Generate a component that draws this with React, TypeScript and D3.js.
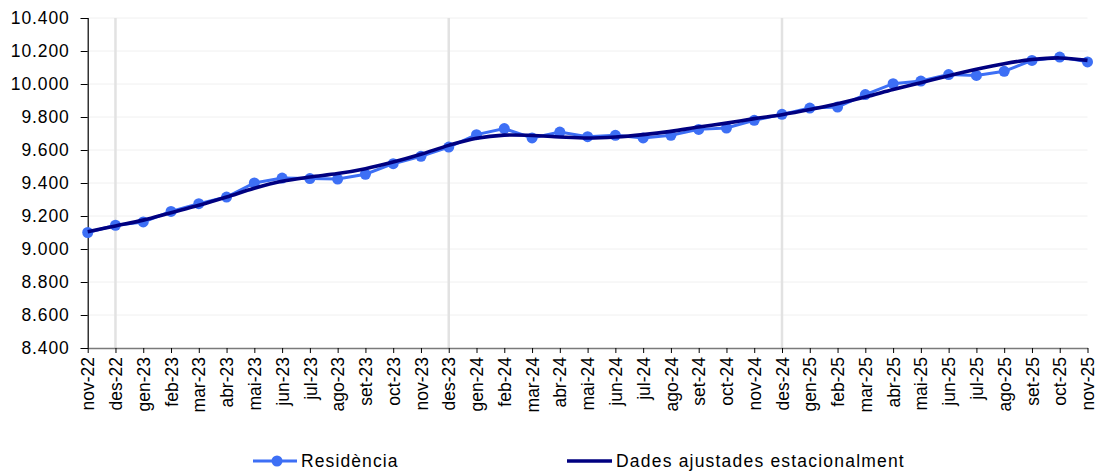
import React, { useEffect, useRef } from "react";
import * as d3 from "d3";

const months = [
  "nov-22", "des-22", "gen-23", "feb-23", "mar-23", "abr-23", "mai-23", "jun-23", "jul-23",
  "ago-23", "set-23", "oct-23", "nov-23", "des-23", "gen-24", "feb-24", "mar-24", "abr-24",
  "mai-24", "jun-24", "jul-24", "ago-24", "set-24", "oct-24", "nov-24", "des-24", "gen-25",
  "feb-25", "mar-25", "abr-25", "mai-25", "jun-25", "jul-25", "ago-25", "set-25", "oct-25",
  "nov-25",
];

const residencia = [
  9100, 9144, 9164, 9228, 9275, 9315, 9400, 9430, 9427, 9424, 9453, 9517, 9562, 9618, 9693,
  9730, 9673, 9709, 9681, 9689, 9673, 9689, 9725, 9733, 9780, 9816, 9854, 9860, 9936, 10002,
  10018, 10057, 10052, 10077, 10143, 10163, 10134,
];

const ajustades = [
  9105, 9140, 9175, 9220, 9265, 9315, 9368, 9410, 9436, 9457, 9487, 9527, 9574, 9628, 9671,
  9690, 9688, 9679, 9673, 9679, 9693, 9713, 9739, 9763, 9790, 9814, 9845, 9881, 9921, 9966,
  10008, 10050, 10089, 10123, 10148, 10158, 10143,
];

const yTicks = [8400, 8600, 8800, 9000, 9200, 9400, 9600, 9800, 10000, 10200, 10400];
const yearMarks = ["des-22", "des-23", "des-24"];

const seriesNames = ["Residència", "Dades ajustades estacionalment"];

const W = 1100;
const H = 473;
const margin = { top: 18, right: 12.5, bottom: 125, left: 87.7 };
const FONT = "'Liberation Sans', Arial, sans-serif";
const BLUE = "#3d6ff5";
const NAVY = "#000080";

const fmt = (v: number) => d3.format(",")(v).replace(/,/g, ".");

const App: React.FC = () => {
  const svgRef = useRef<SVGSVGElement>(null);

  useEffect(() => {
    if (!svgRef.current) return;
    const svg = d3.select(svgRef.current);
    svg.selectAll("*").remove();

    const x = d3
      .scalePoint<string>()
      .domain(months)
      .range([margin.left, W - margin.right]);

    const y = d3
      .scaleLinear()
      .domain([8400, 10400])
      .range([H - margin.bottom, margin.top]);

    const x0 = margin.left;
    const x1 = W - margin.right;
    const yb = y(8400);

    // horizontal gridlines
    svg
      .append("g")
      .selectAll("line")
      .data(yTicks.slice(1))
      .join("line")
      .attr("x1", x0)
      .attr("x2", x1)
      .attr("y1", (d) => y(d))
      .attr("y2", (d) => y(d))
      .attr("stroke", "#f0f0f0")
      .attr("stroke-width", 1);

    // vertical year lines
    svg
      .append("g")
      .selectAll("line")
      .data(yearMarks)
      .join("line")
      .attr("x1", (d) => x(d)!)
      .attr("x2", (d) => x(d)!)
      .attr("y1", y(10400))
      .attr("y2", yb)
      .attr("stroke", "#e2e2e2")
      .attr("stroke-width", 2.5);

    // y axis
    const yAxis = svg
      .append("g")
      .attr("transform", `translate(${x0},0)`)
      .call(
        d3
          .axisLeft(y)
          .tickValues(yTicks)
          .tickSize(7)
          .tickPadding(11)
          .tickFormat((d) => fmt(d as number))
      );
    yAxis.select(".domain").attr("stroke", "#000").attr("stroke-width", 1.2);
    yAxis.selectAll(".tick line").attr("stroke", "#000");
    yAxis
      .selectAll("text")
      .attr("font-family", FONT)
      .attr("font-size", 17.5)
      .attr("letter-spacing", "0.9px")
      .attr("fill", "#000");

    // x axis
    const xAxis = svg
      .append("g")
      .attr("transform", `translate(0,${yb})`)
      .call(d3.axisBottom(x).tickSize(5).tickSizeOuter(0));
    xAxis.select(".domain").attr("stroke", "#7a7a7a").attr("stroke-width", 1.5);
    xAxis.selectAll(".tick line").attr("stroke", "#000");
    xAxis
      .selectAll("text")
      .attr("font-family", FONT)
      .attr("font-size", 17.5)
      .attr("fill", "#000")
      .attr("transform", "rotate(-90)")
      .attr("text-anchor", "end")
      .attr("x", -9)
      .attr("y", 0)
      .attr("dy", "0.35em");

    // Residència
    const line = d3
      .line<number>()
      .x((_, i) => x(months[i])!)
      .y((d) => y(d));

    svg
      .append("path")
      .datum(residencia)
      .attr("d", line)
      .attr("fill", "none")
      .attr("stroke", BLUE)
      .attr("stroke-width", 3);

    svg
      .append("g")
      .selectAll("circle")
      .data(residencia)
      .join("circle")
      .attr("cx", (_, i) => x(months[i])!)
      .attr("cy", (d) => y(d))
      .attr("r", 5.5)
      .attr("fill", BLUE);

    // seasonally adjusted
    const smooth = d3
      .line<number>()
      .x((_, i) => x(months[i])!)
      .y((d) => y(d))
      .curve(d3.curveCatmullRom.alpha(0.5));

    svg
      .append("path")
      .datum(ajustades)
      .attr("d", smooth)
      .attr("fill", "none")
      .attr("stroke", NAVY)
      .attr("stroke-width", 3.6);

    // legend
    const lg = svg.append("g").attr("font-family", FONT).attr("font-size", 17.5);
    const ly = 461;
    lg.append("line")
      .attr("x1", 253).attr("x2", 297).attr("y1", ly).attr("y2", ly)
      .attr("stroke", BLUE).attr("stroke-width", 3);
    lg.append("circle").attr("cx", 277).attr("cy", ly).attr("r", 5.5).attr("fill", BLUE);
    lg.append("text")
      .attr("x", 301).attr("y", ly).attr("dy", "0.36em")
      .attr("letter-spacing", "1.1px")
      .text(seriesNames[0]);
    lg.append("line")
      .attr("x1", 567).attr("x2", 612).attr("y1", ly).attr("y2", ly)
      .attr("stroke", NAVY).attr("stroke-width", 3.6);
    lg.append("text")
      .attr("x", 616).attr("y", ly).attr("dy", "0.36em")
      .attr("letter-spacing", "1.2px")
      .text(seriesNames[1]);
  }, []);

  return (
    <svg
      ref={svgRef}
      width={W}
      height={H}
      style={{ position: "absolute", left: 0, top: 0, background: "#fff" }}
    />
  );
};

export default App;
